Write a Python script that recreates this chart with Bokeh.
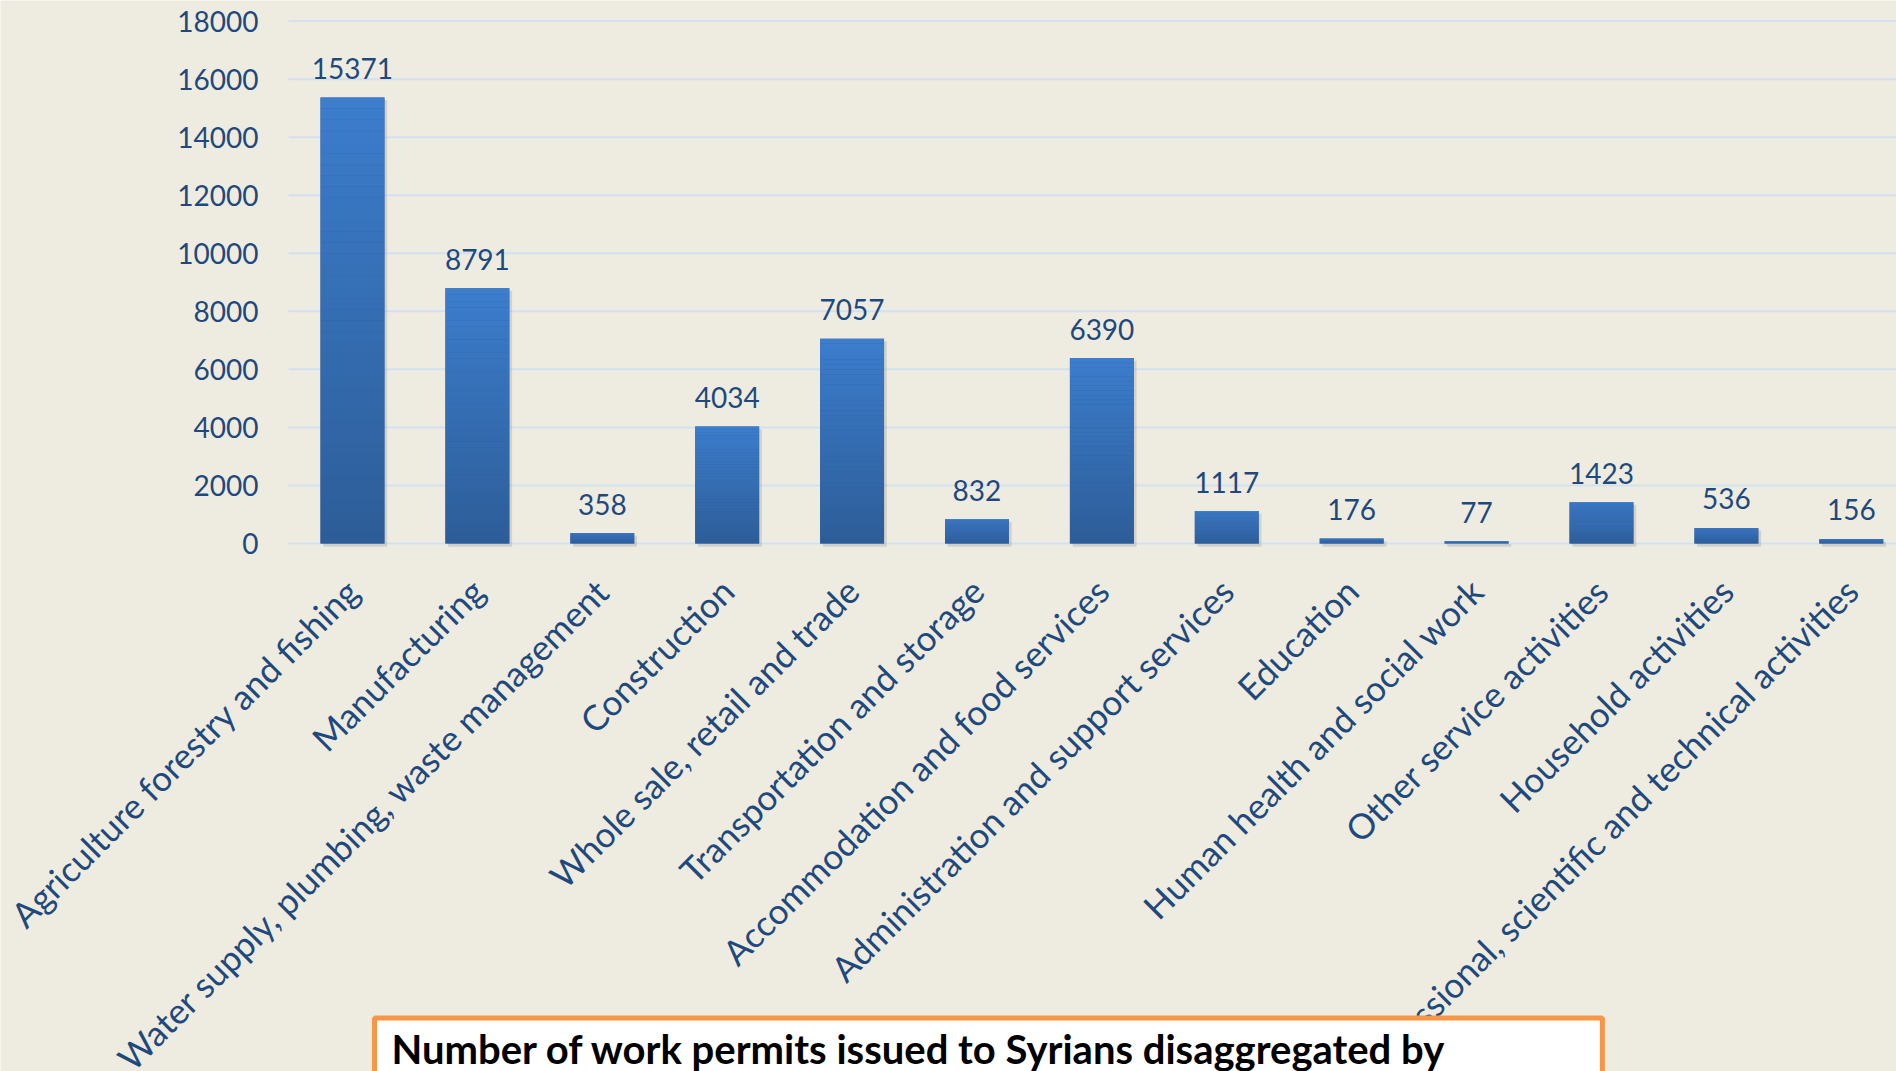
import numpy as np
from math import pi
from bokeh.plotting import figure
from bokeh.models import ColumnDataSource, Range1d, FixedTicker, LabelSet, Label
from bokeh.core.properties import value
from bokeh.embed import file_html
from bokeh.resources import INLINE

categories = [
    "Agriculture forestry and fishing",
    "Manufacturing",
    "Water supply, plumbing, waste management",
    "Construction",
    "Whole sale, retail and trade",
    "Transportation and storage",
    "Accommodation and food services",
    "Administration and support services",
    "Education",
    "Human health and social work",
    "Other service activities",
    "Household activities",
    "Professional, scientific and technical activities",
]
values = [15371, 8791, 358, 4034, 7057, 832, 6390, 1117, 176, 77, 1423, 536, 156]
y_ticks = [0, 2000, 4000, 6000, 8000, 10000, 12000, 14000, 16000, 18000]
title_text = "Number of work permits issued to Syrians  disaggregated by"

BG = "#EEECE1"
TXT = "#1F497D"
GRID = "#D3E0F1"
TOP_C = np.array([60, 125, 205])
BOT_C = np.array([45, 93, 152])
FONT = "Lato"

X0, X1 = -2.818, 12.362      # full canvas width in category units
PLOT_LEFT = -0.512           # where the value axis / grid begin
Y0, Y1 = -18193, 18710       # full canvas height in value units

idx = list(range(len(categories)))
src = ColumnDataSource(dict(x=idx, v=values, cat=categories,
                            lab=[str(v) for v in values]))

# the frame covers the whole canvas so that rotated category labels and the
# caption box (drawn as annotations) are not clipped
p = figure(width=1896, height=1071, output_backend="svg", toolbar_location=None,
           x_range=Range1d(X0, X1), y_range=Range1d(Y0, Y1),
           x_axis_location=None, min_border_left=0, min_border_right=0,
           min_border_top=0, min_border_bottom=0)
p.background_fill_color = BG
p.border_fill_color = BG
p.outline_line_color = None
p.xgrid.visible = False
p.ygrid.visible = False

# value axis placed at the left edge of the plotting area
p.yaxis.fixed_location = PLOT_LEFT
p.yaxis.ticker = FixedTicker(ticks=y_ticks)
p.yaxis.axis_line_color = None
p.yaxis.major_tick_line_color = None
p.yaxis.minor_tick_line_color = None
p.yaxis.major_tick_out = 0
p.yaxis.major_tick_in = 0
p.yaxis.major_label_standoff = 30
p.yaxis.major_label_text_font = FONT
p.yaxis.major_label_text_font_size = "28px"
p.yaxis.major_label_text_color = TXT

# horizontal grid lines at the tick values
p.segment(x0=[PLOT_LEFT] * len(y_ticks), x1=[X1] * len(y_ticks),
          y0=y_ticks, y1=y_ticks, line_color=GRID, line_width=2)

W = 0.512
# shadow
p.vbar(x=[i + 0.022 for i in idx], width=W, bottom=-110,
       top=[v - 90 for v in values], fill_color="#7d7868", fill_alpha=0.22,
       line_color=None)
# base bar
p.vbar(x="x", width=W, bottom=0, top="v", source=src,
       fill_color="#355f9f", line_color=None)
# vertical gradient (light at top, darker at bottom)
N = 40
gx, gb, gt, gc = [], [], [], []
for i, v in zip(idx, values):
    for k in range(N):
        t = (k + 0.5) / N
        c = BOT_C + (TOP_C - BOT_C) * t
        gx.append(i)
        gb.append(v * k / N)
        gt.append(v * (k + 1) / N)
        gc.append("#%02x%02x%02x" % tuple(int(round(q)) for q in c))
p.vbar(x=gx, width=W, bottom=gb, top=gt, fill_color=gc, line_color=None)

# value labels
p.add_layout(LabelSet(x="x", y="v", text="lab", source=src, y_offset=29,
                      text_align="center", text_baseline="middle",
                      text_font=value(FONT), text_font_size=value("28px"),
                      text_color=TXT))

# category labels
p.add_layout(LabelSet(x="x", y=0, text="cat", source=src, x_offset=-15, y_offset=-26,
                      angle=pi / 4, text_align="right", text_baseline="top",
                      text_font=value(FONT), text_font_size=value("35px"),
                      text_color=TXT))

# caption box
p.add_layout(Label(x=374, y=6, x_units="screen", y_units="screen",
                   text=title_text, text_font=FONT, text_font_style="bold",
                   text_font_size="40px", text_color="black",
                   text_baseline="alphabetic", text_align="left",
                   background_fill_color="white", border_line_color="#F79646",
                   border_line_width=5,
                   padding=dict(left=17, right=146, top=7, bottom=40)))

open("out.html", "w").write(file_html(p, INLINE))
